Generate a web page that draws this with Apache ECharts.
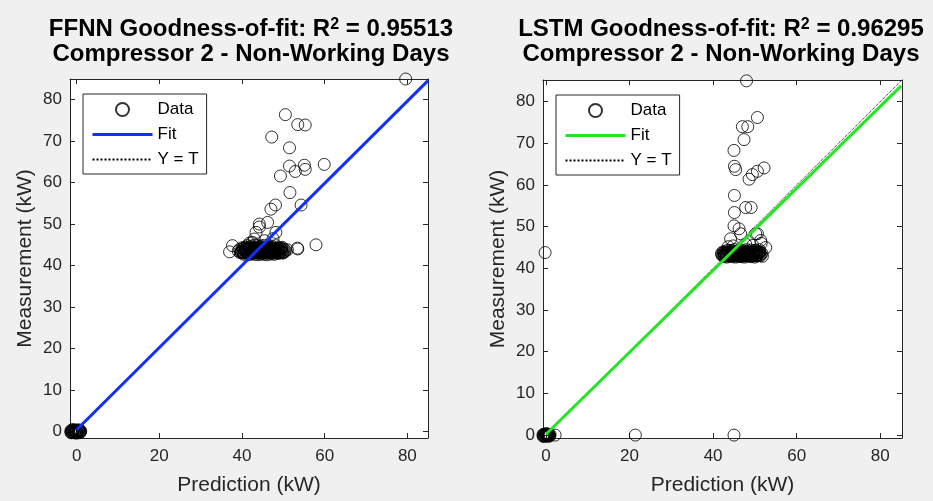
<!DOCTYPE html>
<html>
<head>
<meta charset="utf-8">
<script src="https://cdn.jsdelivr.net/npm/echarts@6/dist/echarts.min.js"></script>
<style>
  html, body { margin: 0; padding: 0; background: #f0f0f0; }
  #chart { width: 933px; height: 501px; }
</style>
</head>
<body>
<div id="chart"></div>
<script>
// ---- data ----
const xTicks = [0, 20, 40, 60, 80]
const yTicks = [0, 10, 20, 30, 40, 50, 60, 70, 80]
const ffnnLimits = [-1.6, 85]
const lstmLimits = [-0.7, 85.2]

const fitX = [0, 85]
const identityY = [0, 85]
const ffnnFitY = [0.4, 84.6]
const lstmFitY = [0.2, 83.8]

// FFNN: [prediction, measurement]
const ffnnZeros = [
  [-1.4, 0.1], [-1.3, -0.2], [-1.2, 0.3], [-1.1, 0], [-1.0, -0.3], [-0.9, 0.2], [-0.8, -0.1], [-0.7, 0.4],
  [-0.6, 0], [-0.5, -0.3], [-0.4, 0.2], [-0.3, -0.1], [-0.2, 0.3], [-0.1, 0], [0, -0.2], [0.1, 0.2],
  [0.2, -0.4], [0.3, 0.1], [0.4, -0.1], [0.5, 0.3], [0.6, 0], [0.7, -0.2], [0.8, 0.2], [0.9, -0.1],
  [1.0, 0.1], [-1.35, -0.35], [-0.95, 0.35], [0.45, 0.35], [0.85, -0.3], [-0.25, -0.4]
]
const ffnnCluster = [
  [40.5, 42.7], [41.6, 42.6], [42.4, 42.8], [43.1, 42.7], [43.9, 42.6], [44.6, 42.8], [45.3, 42.7], [46.1, 42.6],
  [46.9, 42.8], [47.8, 42.7], [48.7, 42.9],
  [39.6, 43.1], [40.3, 43.0], [41.0, 43.2], [41.7, 43.1], [42.3, 43.0], [42.8, 43.2], [43.4, 43.1], [44.0, 43.0],
  [44.5, 43.2], [45.1, 43.1], [45.7, 43.0], [46.3, 43.2], [47.0, 43.1], [47.6, 43.0], [48.3, 43.2], [49.1, 43.1], [49.9, 43.0],
  [39.1, 43.5], [39.8, 43.4], [40.6, 43.6], [41.3, 43.5], [41.9, 43.4], [42.5, 43.6], [43.0, 43.5], [43.6, 43.4],
  [44.2, 43.6], [44.8, 43.5], [45.4, 43.4], [46.0, 43.6], [46.6, 43.5], [47.3, 43.4], [48.0, 43.6], [48.8, 43.5],
  [49.6, 43.4], [50.5, 43.6],
  [39.4, 43.9], [40.2, 44.0], [40.9, 43.8], [41.6, 43.9], [42.2, 44.0], [42.7, 43.8], [43.3, 43.9], [43.9, 44.0],
  [44.4, 43.8], [45.0, 43.9], [45.6, 44.0], [46.3, 43.8], [47.1, 43.9], [47.9, 44.0], [48.6, 43.8], [49.4, 43.9],
  [50.2, 44.0], [51.0, 43.8],
  [40.0, 44.3], [40.8, 44.4], [41.5, 44.2], [42.1, 44.3], [42.8, 44.4], [43.5, 44.2], [44.1, 44.3], [44.8, 44.4],
  [45.5, 44.2], [46.2, 44.3], [47.0, 44.4], [47.8, 44.2], [48.7, 44.3], [49.7, 44.4],
  [41.3, 44.8], [42.2, 44.7], [43.0, 44.9], [43.8, 44.8], [44.6, 44.7], [45.4, 44.9], [46.3, 44.8], [47.2, 44.7], [48.2, 44.8],
  [43.0, 46.4], [43.4, 48.0], [44.2, 49.3], [48.2, 48.0], [44.2, 50.0], [42.5, 45.6], [45.5, 46.0], [47.5, 46.5], [41.8, 45.4]
]
const ffnnCore = [
  [39.8, 43.2], [40.1, 43.3], [40.4, 43.1], [40.7, 43.2], [41.0, 43.4], [41.3, 43.1], [41.6, 43.2], [41.9, 43.3],
  [42.2, 43.1], [42.5, 43.2], [42.8, 43.4], [43.1, 43.2], [43.4, 43.1], [43.7, 43.3], [44.0, 43.2], [44.3, 43.1],
  [44.6, 43.3], [44.9, 43.2], [45.2, 43.1], [45.5, 43.3], [45.8, 43.2], [46.1, 43.4], [46.4, 43.1], [46.7, 43.2],
  [47.0, 43.3], [47.3, 43.1], [47.6, 43.2], [47.9, 43.3], [48.2, 43.2], [48.5, 43.1], [48.8, 43.3], [49.1, 43.2],
  [49.4, 43.3], [49.7, 43.1], [50.0, 43.2], [50.3, 43.3],
  [40.3, 44.1], [40.6, 44.2], [40.9, 44.0], [41.2, 44.1], [41.5, 44.3], [41.8, 44.0], [42.1, 44.1], [42.4, 44.2],
  [42.7, 44.0], [43.0, 44.1], [43.3, 44.3], [43.6, 44.1], [43.9, 44.0], [44.2, 44.2], [44.5, 44.1], [44.8, 44.0],
  [45.1, 44.2], [45.4, 44.1], [45.7, 44.0], [46.0, 44.2], [46.3, 44.1], [46.6, 44.3], [46.9, 44.0], [47.2, 44.1],
  [47.5, 44.2], [47.8, 44.0], [48.1, 44.1], [48.4, 44.2], [48.7, 44.1], [49.0, 44.0], [49.3, 44.2], [49.6, 44.1]
]
const ffnnOutliers = [
  [50.5, 76.4], [53.5, 74.0], [55.3, 73.9], [47.2, 71.0], [51.5, 68.4], [51.5, 64.0], [55.1, 64.2], [55.3, 63.2],
  [52.9, 62.7], [49.3, 61.6], [59.9, 64.4], [51.6, 57.6], [54.3, 54.6], [48.1, 54.6], [47.0, 53.6], [46.2, 50.4],
  [57.9, 45.0], [53.4, 44.2], [37.0, 43.3], [37.7, 44.8], [53.5, 44.0], [79.6, 85.0]
]

// LSTM: [prediction, measurement]
const lstmZeros = [
  [-0.7, 0.1], [-0.6, -0.2], [-0.5, 0.2], [-0.4, 0], [-0.3, -0.3], [-0.2, 0.2], [-0.1, -0.1], [0, 0.3],
  [0.1, 0], [0.2, -0.2], [0.3, 0.2], [0.4, -0.1], [0.5, 0.1], [0.6, -0.3], [0.7, 0.2], [0.8, 0],
  [0.9, -0.2], [1.0, 0.1], [-0.65, -0.3], [0.15, 0.3], [0.55, -0.1], [2.2, 0], [21.4, 0], [45.0, 0], [-0.2, 43.8]
]
const lstmCluster = [
  [42.6, 42.8], [43.3, 42.7], [44.0, 42.9], [44.7, 42.8], [45.4, 42.7], [46.1, 42.9], [46.8, 42.8], [47.5, 42.7],
  [48.3, 42.9], [49.1, 42.8], [50.0, 42.7],
  [42.1, 43.2], [42.7, 43.1], [43.3, 43.3], [43.9, 43.2], [44.5, 43.1], [45.1, 43.3], [45.7, 43.2], [46.3, 43.1],
  [46.9, 43.3], [47.5, 43.2], [48.2, 43.1], [48.9, 43.3], [49.7, 43.2], [50.5, 43.1], [51.3, 43.3],
  [42.0, 43.6], [42.6, 43.5], [43.2, 43.7], [43.8, 43.6], [44.4, 43.5], [45.0, 43.7], [45.6, 43.6], [46.2, 43.5],
  [46.8, 43.7], [47.4, 43.6], [48.0, 43.5], [48.7, 43.7], [49.4, 43.6], [50.2, 43.5], [51.0, 43.7], [51.7, 43.6],
  [42.4, 44.0], [43.1, 43.9], [43.8, 44.1], [44.5, 44.0], [45.2, 43.9], [45.9, 44.1], [46.6, 44.0], [47.3, 43.9],
  [48.0, 44.1], [48.8, 44.0], [49.6, 43.9], [50.4, 44.1], [51.2, 44.0],
  [43.5, 44.4], [44.4, 44.3], [45.3, 44.5], [46.2, 44.4], [47.1, 44.3], [48.0, 44.5], [49.0, 44.4], [50.0, 44.3], [51.0, 44.5],
  [50.2, 44.3], [52.6, 45.0], [51.8, 42.9], [46.6, 48.3], [50.2, 48.3], [44.8, 45.4], [47.8, 45.8], [49.5, 45.5],
  [51.5, 46.0], [43.6, 45.2]
]
const lstmCore = [
  [42.3, 43.1], [42.6, 43.0], [42.9, 43.2], [43.2, 43.1], [43.5, 43.0], [43.8, 43.1], [44.1, 43.2], [44.4, 43.0],
  [44.7, 43.1], [45.0, 43.2], [45.3, 43.1], [45.6, 43.0], [45.9, 43.1], [46.2, 43.2], [46.5, 43.0], [46.8, 43.1],
  [47.1, 43.2], [47.4, 43.1], [47.7, 43.0], [48.0, 43.1], [48.3, 43.2], [48.6, 43.1], [48.9, 43.0], [49.2, 43.1],
  [49.5, 43.2], [49.8, 43.1], [50.1, 43.0], [50.4, 43.1], [50.7, 43.2], [51.0, 43.1], [51.3, 43.0],
  [42.5, 43.8], [42.8, 43.9], [43.1, 43.7], [43.4, 43.8], [43.7, 43.9], [44.0, 43.8], [44.3, 43.7], [44.6, 43.8],
  [44.9, 43.9], [45.2, 43.8], [45.5, 43.7], [45.8, 43.8], [46.1, 43.9], [46.4, 43.8], [46.7, 43.7], [47.0, 43.8],
  [47.3, 43.9], [47.6, 43.8], [47.9, 43.7], [48.2, 43.8], [48.5, 43.9], [48.8, 43.8], [49.1, 43.7], [49.4, 43.8],
  [49.7, 43.9], [50.0, 43.8], [50.3, 43.7], [50.6, 43.8], [50.9, 43.9], [51.2, 43.8]
]
const lstmOutliers = [
  [48.0, 85.0], [50.6, 76.2], [47.0, 74.0], [48.3, 74.0], [47.4, 70.9], [45.0, 68.3], [45.1, 64.5], [45.4, 63.7],
  [52.2, 64.1], [50.6, 63.3], [49.4, 62.5], [48.6, 61.4], [45.1, 57.5], [47.8, 54.6], [49.1, 54.6], [45.1, 53.4],
  [45.0, 50.2], [46.2, 49.5], [50.6, 48.3], [44.2, 47.1], [51.4, 46.7]
]

// ---- chart ----
const FONT = '"Liberation Sans", Arial, Helvetica, sans-serif'
const AXIS_COLOR = '#262626'

const grids = [
  { left: 70, top: 79, width: 358, height: 360 },
  { left: 543, top: 80, width: 359, height: 359 },
]

const makeAxis = (gridIndex, limits, ticks, position, showLabel, name) => ({
  type: 'value',
  gridIndex,
  position,
  min: limits[0],
  max: limits[1],
  name: name,
  nameLocation: 'middle',
  nameGap: position === 'bottom' ? 37 : 34,
  nameTextStyle: { fontFamily: FONT, fontSize: 21, color: AXIS_COLOR },
  splitLine: { show: false },
  axisLine: { show: true, onZero: false, lineStyle: { color: AXIS_COLOR, width: 1 } },
  axisTick: { show: true, inside: true, length: 5, customValues: ticks, lineStyle: { color: AXIS_COLOR } },
  axisLabel: {
    show: showLabel,
    customValues: ticks,
    fontFamily: FONT,
    fontSize: 17,
    color: AXIS_COLOR,
    margin: position === 'bottom' ? 10 : 8,
  },
})

const xAxes = []
const yAxes = []
;[ffnnLimits, lstmLimits].forEach((lim, i) => {
  xAxes.push(makeAxis(i, lim, xTicks, 'bottom', true, 'Prediction (kW)'))
  xAxes.push(makeAxis(i, lim, xTicks, 'top', false, ''))
  yAxes.push(makeAxis(i, lim, yTicks, 'left', true, 'Measurement (kW)'))
  yAxes.push(makeAxis(i, lim, yTicks, 'right', false, ''))
})

const line = (name, axis, ys, color, type, width) => ({
  name,
  type: 'line',
  xAxisIndex: axis,
  yAxisIndex: axis,
  data: fitX.map((x, k) => [x, ys[k]]),
  symbol: 'none',
  lineStyle: { color, type, width },
  itemStyle: { color },
  silent: true,
  animation: false,
})

const scatter = (name, axis, pts) => ({
  name,
  type: 'scatter',
  xAxisIndex: axis,
  yAxisIndex: axis,
  data: pts,
  symbol: 'circle',
  symbolSize: 12,
  itemStyle: { color: 'rgba(0,0,0,0)', borderColor: '#000', borderWidth: 1 },
  animation: false,
})

const legend = (prefix, left, top) => ({
  data: [
    { name: prefix + ' Data' },
    { name: prefix + ' Fit', itemStyle: { opacity: 0 }, lineStyle: { width: 3 } },
    { name: prefix + ' Y = T', itemStyle: { opacity: 0 } },
  ],
  orient: 'vertical',
  left,
  top,
  padding: [7, 8, 6, 8],
  itemWidth: 60,
  itemHeight: 13,
  itemGap: 8,
  backgroundColor: '#fff',
  borderColor: AXIS_COLOR,
  borderWidth: 1,
  borderRadius: 0,
  selectedMode: false,
  formatter: (n) => n.split(' ').slice(1).join(' '),
  textStyle: { fontFamily: FONT, fontSize: 17, color: '#000' },
})

const titleStyle = {
  fontFamily: FONT,
  fontSize: 24,
  fontWeight: 'bold',
  color: '#000',
  lineHeight: 25,
  rich: {
    sup: { fontFamily: FONT, fontSize: 16, fontWeight: 'bold', color: '#000', verticalAlign: 'top', lineHeight: 15 },
  },
}

const chart = echarts.init(document.getElementById('chart'))
chart.setOption({
  backgroundColor: '#f0f0f0',
  animation: false,
  title: [
    { text: 'FFNN Goodness-of-fit: R{sup|2} = 0.95513\nCompressor 2 - Non-Working Days', left: 246, top: 12, textAlign: 'center', textStyle: titleStyle },
    { text: 'LSTM Goodness-of-fit: R{sup|2} = 0.96295\nCompressor 2 - Non-Working Days', left: 716, top: 12, textAlign: 'center', textStyle: titleStyle },
  ],
  legend: [legend('FFNN', 83, 94), legend('LSTM', 556, 95)],
  grid: grids.map((g) => ({ ...g, show: true, backgroundColor: '#fff', borderWidth: 0 })),
  xAxis: xAxes,
  yAxis: yAxes,
  series: [
    line('FFNN Y = T', 0, identityY, '#000', 'dotted', 1),
    line('FFNN Fit', 0, ffnnFitY, '#1030ff', 'solid', 3),
    scatter('FFNN Data', 0, ffnnZeros.concat(ffnnCluster, ffnnCore, ffnnOutliers)),
    line('LSTM Y = T', 2, identityY, '#000', 'dotted', 1),
    line('LSTM Fit', 2, lstmFitY, '#22e622', 'solid', 3),
    scatter('LSTM Data', 2, lstmZeros.concat(lstmCluster, lstmCore, lstmOutliers)),
  ],
})

window.addEventListener('resize', () => chart.resize())
</script>
</body>
</html>
